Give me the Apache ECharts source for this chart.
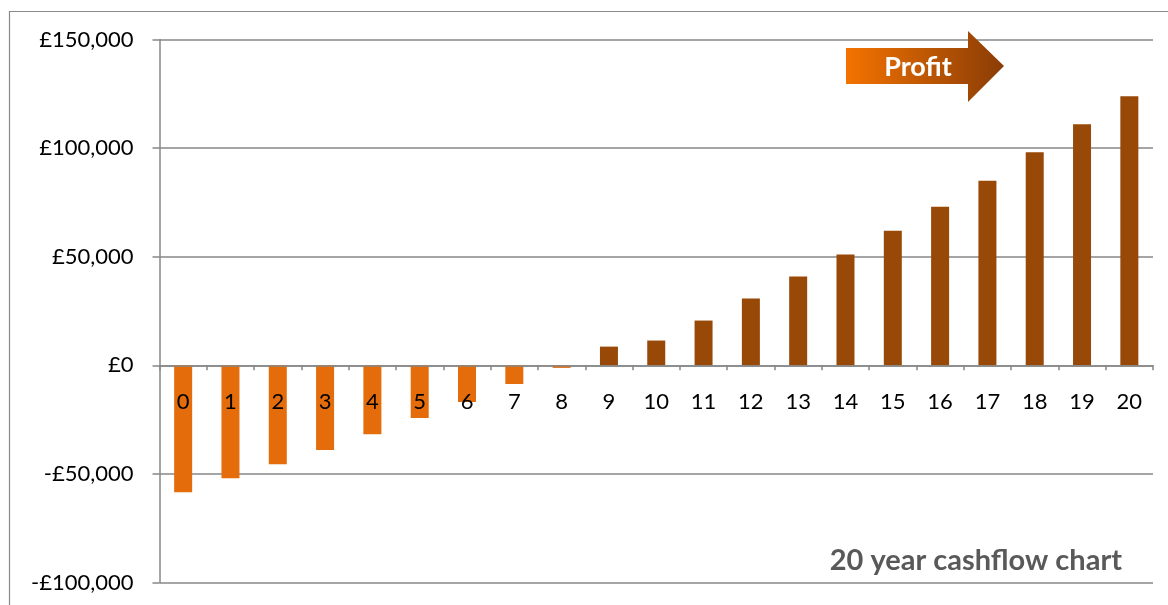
<!DOCTYPE html>
<html>
<head>
<meta charset="utf-8">
<script src="https://cdn.jsdelivr.net/npm/echarts@6/dist/echarts.min.js"></script>
<style>
html,body{margin:0;padding:0;background:#fff;}
#chart{width:1168px;height:605px;}
</style>
</head>
<body>
<div id="chart"></div>
<script>
const years = ['0','1','2','3','4','5','6','7','8','9','10','11','12','13','14','15','16','17','18','19','20'];
const cashflow = [-58400,-52000,-45500,-39000,-31700,-24300,-16900,-8600,-1200,8600,11400,20600,30700,40900,51000,62000,73000,85000,98100,111000,123900];
const yTicks = { min: -100000, max: 150000, interval: 50000 };
const chartTitle = '20 year cashflow chart';
const arrowLabel = 'Profit';

const FONT = 'Lato';
const GRID_COLOR = '#878787';

function money(v){
  const s = Math.abs(v).toLocaleString('en-GB');
  return (v < 0 ? '-£' : '£') + s;
}

const el = document.getElementById('chart');
const chart = echarts.init(el);
const gridTop = 39.5, gridBottom = 22.5;
const plotH = chart.getHeight() - gridTop - gridBottom;
// place the category axis on the zero line of the value scale
const zeroOffset = -plotH * (0 - yTicks.min) / (yTicks.max - yTicks.min);

chart.setOption({
  animation: false,
  backgroundColor: '#ffffff',
  grid: { left: 159.5, right: 15, top: gridTop, bottom: gridBottom, containLabel: false, outerBoundsMode: 'none' },
  title: {
    text: chartTitle,
    right: 46, top: 546, padding: 0,
    textStyle: { fontFamily: FONT, fontSize: 29, fontWeight: 'bold', color: '#595959' }
  },
  xAxis: {
    type: 'category',
    data: years,
    position: 'bottom',
    offset: zeroOffset,
    z: 10,
    axisLine: { onZero: false, lineStyle: { color: GRID_COLOR, width: 1.5 } },
    axisTick: { show: true, interval: 0, length: 5, alignWithLabel: false, lineStyle: { color: GRID_COLOR, width: 1.5 } },
    axisLabel: { interval: 0, margin: 26, fontFamily: FONT, fontSize: 22, color: '#000' },
    splitLine: { show: false }
  },
  yAxis: {
    type: 'value',
    min: yTicks.min, max: yTicks.max, interval: yTicks.interval,
    axisLine: { show: true, lineStyle: { color: GRID_COLOR, width: 1.5 } },
    axisTick: { show: true, length: 7, lineStyle: { color: GRID_COLOR, width: 1.5 } },
    axisLabel: { margin: 26, fontFamily: FONT, fontSize: 22, color: '#000', formatter: money },
    splitLine: { show: true, lineStyle: { color: GRID_COLOR, width: 1.5 } }
  },
  series: [{
    type: 'bar',
    data: cashflow,
    barWidth: 18,
    itemStyle: {
      color: function(p){ return p.value < 0 ? '#E46C0A' : '#984807'; }
    }
  }],
  graphic: [
    {
      type: 'rect', silent: true, z: 100,
      shape: { x: 9.5, y: 11.5, width: 1300, height: 800 },
      style: { fill: 'none', stroke: '#8a8a8a', lineWidth: 1.2 }
    },
    {
      type: 'polygon', z: 100,
      shape: { points: [[846,48],[968,48],[968,31],[1004,66],[968,102],[968,84],[846,84]] },
      style: {
        fill: new echarts.graphic.LinearGradient(0, 0, 1, 0, [
          { offset: 0, color: '#F47300' },
          { offset: 1, color: '#8A3C06' }
        ])
      }
    },
    {
      type: 'text', z: 101,
      x: 918, y: 67,
      style: { text: arrowLabel, fill: '#ffffff', font: 'bold 27px Lato', align: 'center', verticalAlign: 'middle' }
    }
  ]
});
</script>
</body>
</html>
